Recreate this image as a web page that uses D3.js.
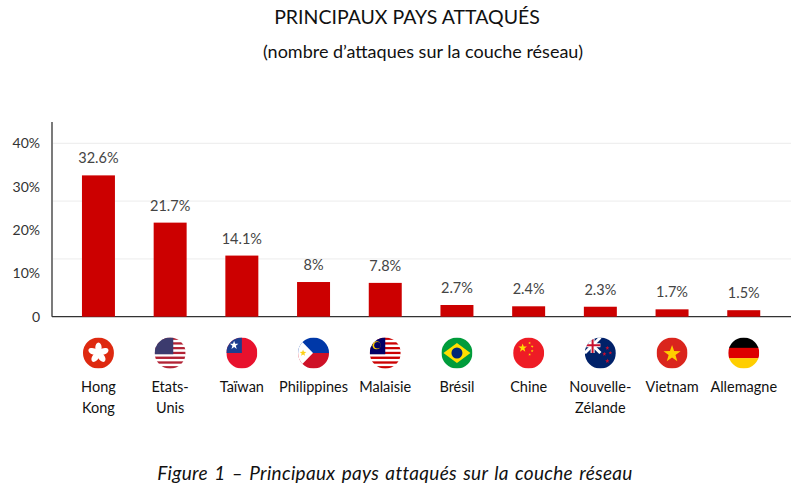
<!DOCTYPE html>
<html>
<head>
<meta charset="utf-8">
<script src="https://cdn.jsdelivr.net/npm/d3@7"></script>
<style>
  body { margin: 0; background: #fff; }
  svg { display: block; font-family: Lato, "Open Sans", sans-serif; }
  .title { font-size: 19.5px; fill: #111; }
  .subtitle { font-size: 18px; fill: #111; }
  .tick text { font-size: 14px; fill: #333; }
  .value { font-size: 14.5px; fill: #444; }
  .country { font-size: 14.5px; fill: #111; }
  .caption { font-size: 19px; font-style: italic; fill: #111; letter-spacing: 0.3px; word-spacing: 1.5px; }
</style>
</head>
<body>
<svg width="802" height="492"></svg>
<script>
let countries = ['Hong Kong', 'Etats-Unis', 'Taïwan', 'Philippines', 'Malaisie',
  'Brésil', 'Chine', 'Nouvelle-Zélande', 'Vietnam', 'Allemagne']
let labelLines = [['Hong', 'Kong'], ['Etats-', 'Unis'], ['Taïwan'], ['Philippines'], ['Malaisie'],
  ['Brésil'], ['Chine'], ['Nouvelle-', 'Zélande'], ['Vietnam'], ['Allemagne']]
let values = [32.6, 21.7, 14.1, 8, 7.8, 2.7, 2.4, 2.3, 1.7, 1.5]
let valueLabels = ['32.6%', '21.7%', '14.1%', '8%', '7.8%', '2.7%', '2.4%', '2.3%', '1.7%', '1.5%']
let flags = ['hk', 'us', 'tw', 'ph', 'my', 'br', 'cn', 'nz', 'vn', 'de']
let yTicks = [0, 10, 20, 30, 40]
let gridValues = [13.33, 26.67, 40]

const svg = d3.select('svg')

const x = d3.scaleBand()
  .domain(countries)
  .range([62.6, 779.6])
  .paddingInner(0.54)
  .paddingOuter(0.27)

const y = d3.scaleLinear()
  .domain([0, 40])
  .range([316.7, 143.3])

// titles
svg.append('text').attr('class', 'title')
  .attr('x', 407).attr('y', 24).attr('text-anchor', 'middle')
  .text('PRINCIPAUX PAYS ATTAQUÉS')
svg.append('text').attr('class', 'subtitle')
  .attr('x', 423).attr('y', 58).attr('text-anchor', 'middle')
  .text('(nombre d’attaques sur la couche réseau)')

// faint grid
svg.append('g')
  .selectAll('line')
  .data(gridValues)
  .enter()
  .append('line')
  .attr('x1', 53).attr('x2', 791)
  .attr('y1', d => y(d)).attr('y2', d => y(d))
  .attr('stroke', '#ececec')

// y axis
const yAxis = svg.append('g')
  .attr('transform', 'translate(52,0)')
  .call(d3.axisLeft(y).tickValues(yTicks).tickSize(0).tickPadding(12)
    .tickFormat(d => d === 0 ? '0' : d + '%'))
yAxis.select('.domain').remove()
yAxis.selectAll('text').style('font-family', 'Lato, sans-serif')

svg.append('line')
  .attr('x1', 52).attr('x2', 52)
  .attr('y1', 122).attr('y2', y(0))
  .attr('stroke', '#333').attr('stroke-width', 1.3)
svg.append('line')
  .attr('x1', 52).attr('x2', 791)
  .attr('y1', y(0)).attr('y2', y(0))
  .attr('stroke', '#333').attr('stroke-width', 1.3)

// bars
svg.append('g')
  .selectAll('rect')
  .data(values)
  .enter()
  .append('rect')
  .attr('x', (d, i) => x(countries[i]))
  .attr('width', x.bandwidth())
  .attr('y', d => y(d))
  .attr('height', d => y(0) - y(d))
  .attr('fill', '#cc0000')

svg.append('g')
  .selectAll('text')
  .data(values)
  .enter()
  .append('text')
  .attr('class', 'value')
  .attr('text-anchor', 'middle')
  .attr('x', (d, i) => x(countries[i]) + x.bandwidth() / 2)
  .attr('y', d => y(d) - 12)
  .text((d, i) => valueLabels[i])

// flags
const R = 15.5
const defs = svg.append('defs')
defs.append('clipPath').attr('id', 'disc')
  .append('circle').attr('r', R)

function star(g, cx, cy, r, fill, rot) {
  const pts = d3.range(10).map(k => {
    const a = -Math.PI / 2 + k * Math.PI / 5 + (rot || 0)
    const rr = k % 2 ? r * 0.4 : r
    return [cx + rr * Math.cos(a), cy + rr * Math.sin(a)]
  })
  g.append('polygon').attr('points', pts.join(' ')).attr('fill', fill)
}

function stripes(g, n, c1, c2) {
  d3.range(n).forEach(k => {
    g.append('rect').attr('x', -R).attr('y', -R + k * 2 * R / n)
      .attr('width', 2 * R).attr('height', 2 * R / n + 0.2)
      .attr('fill', k % 2 ? c2 : c1)
  })
}

function field(g, c) {
  g.append('rect').attr('x', -R).attr('y', -R).attr('width', 2 * R).attr('height', 2 * R).attr('fill', c)
}

const drawFlag = {
  hk: g => {
    field(g, '#de2910')
    d3.range(5).forEach(k => {
      g.append('ellipse').attr('cx', 0).attr('cy', -5).attr('rx', 3.2).attr('ry', 5.5)
        .attr('fill', '#fff').attr('transform', `rotate(${k * 72})`)
    })
  },
  us: g => {
    stripes(g, 13, '#b22234', '#fff')
    g.append('rect').attr('x', -R).attr('y', -R).attr('width', R * 1.2).attr('height', R * 1.08).attr('fill', '#3c3b6e')
  },
  tw: g => {
    field(g, '#e8112d')
    g.append('rect').attr('x', -R).attr('y', -R).attr('width', R).attr('height', R).attr('fill', '#1c3d8f')
    star(g, -R / 2, -R / 2, 4.5, '#fff', 0)
  },
  ph: g => {
    g.append('rect').attr('x', -R).attr('y', -R).attr('width', 2 * R).attr('height', R).attr('fill', '#0038a8')
    g.append('rect').attr('x', -R).attr('y', 0).attr('width', 2 * R).attr('height', R).attr('fill', '#ce1126')
    g.append('polygon').attr('points', `${-R},${-R} ${-R + 15},0 ${-R},${R}`).attr('fill', '#fff')
    star(g, -R + 5, 0, 3.5, '#fcd116', 0)
  },
  my: g => {
    stripes(g, 13, '#cc0001', '#fff')
    g.append('rect').attr('x', -R).attr('y', -R).attr('width', R).attr('height', R * 1.08).attr('fill', '#010066')
    g.append('circle').attr('cx', -R / 2 - 1).attr('cy', -R / 2).attr('r', 4).attr('fill', '#fc0')
    g.append('circle').attr('cx', -R / 2).attr('cy', -R / 2).attr('r', 3.3).attr('fill', '#010066')
  },
  br: g => {
    field(g, '#009c3b')
    g.append('polygon').attr('points', `${-R + 2},0 0,-10 ${R - 2},0 0,10`).attr('fill', '#ffdf00')
    g.append('circle').attr('r', 5.5).attr('fill', '#002776')
  },
  cn: g => {
    field(g, '#ee1c25')
    star(g, -6, -5, 4.5, '#ffde00', 0)
    star(g, 1, -10, 1.5, '#ffde00', 0.3)
    star(g, 3.5, -6.5, 1.5, '#ffde00', 0.6)
    star(g, 3.5, -2, 1.5, '#ffde00', 0)
    star(g, 1, 1.5, 1.5, '#ffde00', 0.3)
  },
  nz: g => {
    field(g, '#012169')
    const uj = g.append('g')
    uj.append('line').attr('x1', -R).attr('y1', -R).attr('x2', 0).attr('y2', 0).attr('stroke', '#fff').attr('stroke-width', 3)
    uj.append('line').attr('x1', 0).attr('y1', -R).attr('x2', -R).attr('y2', 0).attr('stroke', '#fff').attr('stroke-width', 3)
    uj.append('rect').attr('x', -R).attr('y', -R / 2 - 2).attr('width', R).attr('height', 4).attr('fill', '#fff')
    uj.append('rect').attr('x', -R / 2 - 2).attr('y', -R).attr('width', 4).attr('height', R).attr('fill', '#fff')
    uj.append('rect').attr('x', -R).attr('y', -R / 2 - 1).attr('width', R).attr('height', 2).attr('fill', '#c8102e')
    uj.append('rect').attr('x', -R / 2 - 1).attr('y', -R).attr('width', 2).attr('height', R).attr('fill', '#c8102e')
    star(g, 7, -5, 2.2, '#c8102e', 0)
    star(g, 4, 1, 2.2, '#c8102e', 0)
    star(g, 10, 0, 2, '#c8102e', 0)
    star(g, 7, 8, 2.4, '#c8102e', 0)
  },
  vn: g => {
    field(g, '#da251d')
    star(g, 0, 1, 9, '#ffcd00', 0)
  },
  de: g => {
    g.append('rect').attr('x', -R).attr('y', -R).attr('width', 2 * R).attr('height', 2 * R / 3 + 0.2).attr('fill', '#000')
    g.append('rect').attr('x', -R).attr('y', -R / 3).attr('width', 2 * R).attr('height', 2 * R / 3 + 0.2).attr('fill', '#dd0000')
    g.append('rect').attr('x', -R).attr('y', R / 3).attr('width', 2 * R).attr('height', 2 * R / 3).attr('fill', '#ffce00')
  }
}

const flagGroups = svg.append('g')
  .selectAll('g')
  .data(flags)
  .enter()
  .append('g')
  .attr('transform', (d, i) => `translate(${x(countries[i]) + x.bandwidth() / 2},353)`)

flagGroups.each(function (d) {
  const inner = d3.select(this).append('g').attr('clip-path', 'url(#disc)')
  drawFlag[d](inner)
})

// country labels
const labels = svg.append('g')
  .selectAll('text')
  .data(labelLines)
  .enter()
  .append('text')
  .attr('class', 'country')
  .attr('text-anchor', 'middle')
  .attr('x', (d, i) => x(countries[i]) + x.bandwidth() / 2)
  .attr('y', 392)

labels.selectAll('tspan')
  .data(d => d)
  .enter()
  .append('tspan')
  .attr('x', function () { return d3.select(this.parentNode).attr('x') })
  .attr('dy', (d, i) => i === 0 ? 0 : 21)
  .text(d => d)

svg.append('text').attr('class', 'caption')
  .attr('x', 395).attr('y', 480).attr('text-anchor', 'middle')
  .text('Figure 1 – Principaux pays attaqués sur la couche réseau')
</script>
</body>
</html>
